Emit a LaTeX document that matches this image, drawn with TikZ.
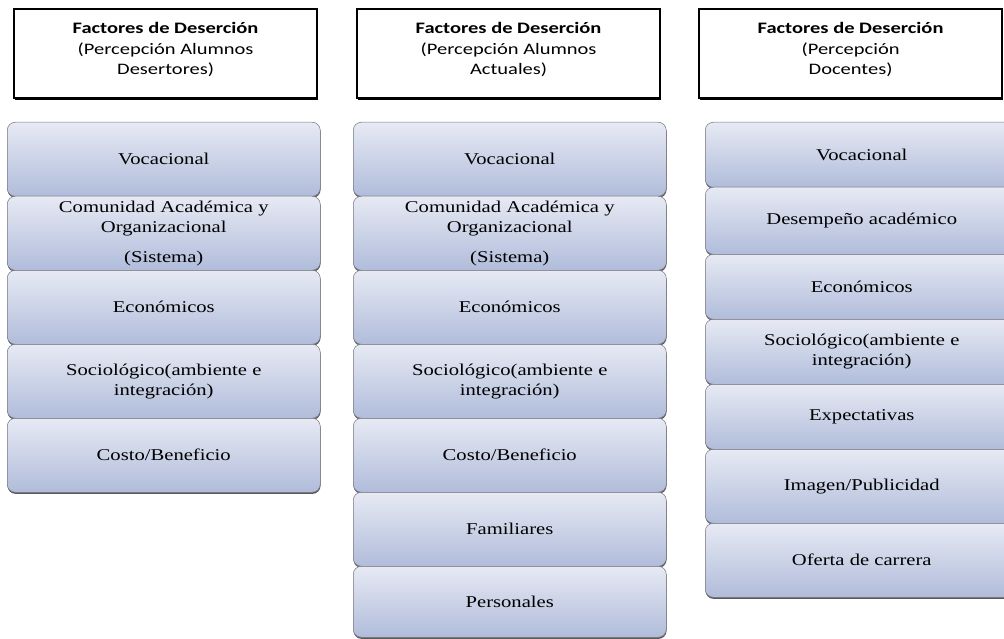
\documentclass[tikz,border=0pt]{standalone}
\usepackage{fontspec}
\usetikzlibrary{shadows}
\newfontfamily\hdrfont[FakeStretch=1.28]{Carlito}
\newfontfamily\bxfont[FakeStretch=1.25]{Liberation Serif}
\definecolor{bxtop}{RGB}{231,234,244}
\definecolor{bxbot}{RGB}{176,188,218}
\definecolor{bxline}{RGB}{120,120,130}
\begin{document}
\begin{tikzpicture}[x=1pt,y=-1pt,
  hdr/.style={draw=black, line width=2.2pt, fill=white, minimum width=303pt, minimum height=89pt,
    anchor=north west, inner sep=0pt,
    drop shadow={shadow xshift=1.2pt, shadow yshift=-1.6pt, fill=black, opacity=1}},
  hdrtext/.style={align=center, inner sep=0pt, font=\hdrfont\fontsize{16}{20.5}\selectfont},
  bx/.style={draw=bxline, line width=0.5pt, rounded corners=8pt, top color=bxtop, bottom color=bxbot,
    minimum width=313pt, anchor=north west, inner sep=0pt, align=center,
    font=\bxfont\fontsize{16.5}{20}\selectfont,
    drop shadow={shadow xshift=0.3pt, shadow yshift=-1.6pt, fill=black!65, opacity=1}}]
\useasboundingbox (0,0) rectangle (1004,639);
\clip (0,0) rectangle (1004,639);

% headers
\node[hdr] (h1) at (13,8) {};
\node[hdrtext] (h1t) at ([yshift=4pt]h1.center) {\textbf{Factores de Deserción}\\(Percepción Alumnos\\Desertores)};
\node[hdr] (h2) at (356,8) {};
\node[hdrtext] (h2t) at ([yshift=4pt]h2.center) {\textbf{Factores de Deserción}\\(Percepción Alumnos\\Actuales)};
\node[hdr] (h3) at (698,8) {};
\node[hdrtext] (h3t) at ([yshift=4pt]h3.center) {\textbf{Factores de Deserción}\\(Percepción\\Docentes)};

% column 1
\node[bx, minimum height=74pt] (a1) at (7,122) {Vocacional};
\node[bx, minimum height=74pt] (a2) at (7,196) {Comunidad Académica y\\Organizacional\\[10pt](Sistema)};
\node[bx, minimum height=74pt] (a3) at (7,270) {Económicos};
\node[bx, minimum height=74pt] (a4) at (7,344) {Sociológico(ambiente e\\integración)};
\node[bx, minimum height=74pt] (a5) at (7,418) {Costo/Beneficio};

% column 2
\node[bx, minimum height=74pt] (b1) at (353,122) {Vocacional};
\node[bx, minimum height=74pt] (b2) at (353,196) {Comunidad Académica y\\Organizacional\\[10pt](Sistema)};
\node[bx, minimum height=74pt] (b3) at (353,270) {Económicos};
\node[bx, minimum height=74pt] (b4) at (353,344) {Sociológico(ambiente e\\integración)};
\node[bx, minimum height=74pt] (b5) at (353,418) {Costo/Beneficio};
\node[bx, minimum height=74pt] (b6) at (353,492) {Familiares};
\node[bx, minimum height=71pt] (b7) at (353,566) {Personales};

% column 3
\node[bx, minimum height=65pt] (c1) at (705,122) {Vocacional};
\node[bx, minimum height=67pt] (c2) at (705,187) {Desempeño académico};
\node[bx, minimum height=65pt] (c3) at (705,254) {Económicos};
\node[bx, minimum height=65pt] (c4) at (705,319) {Sociológico(ambiente e\\integración)};
\node[bx, minimum height=65pt] (c5) at (705,384) {Expectativas};
\node[bx, minimum height=74pt] (c6) at (705,449) {Imagen/Publicidad};
\node[bx, minimum height=74pt] (c7) at (705,523) {Oferta de carrera};
\end{tikzpicture}
\end{document}
